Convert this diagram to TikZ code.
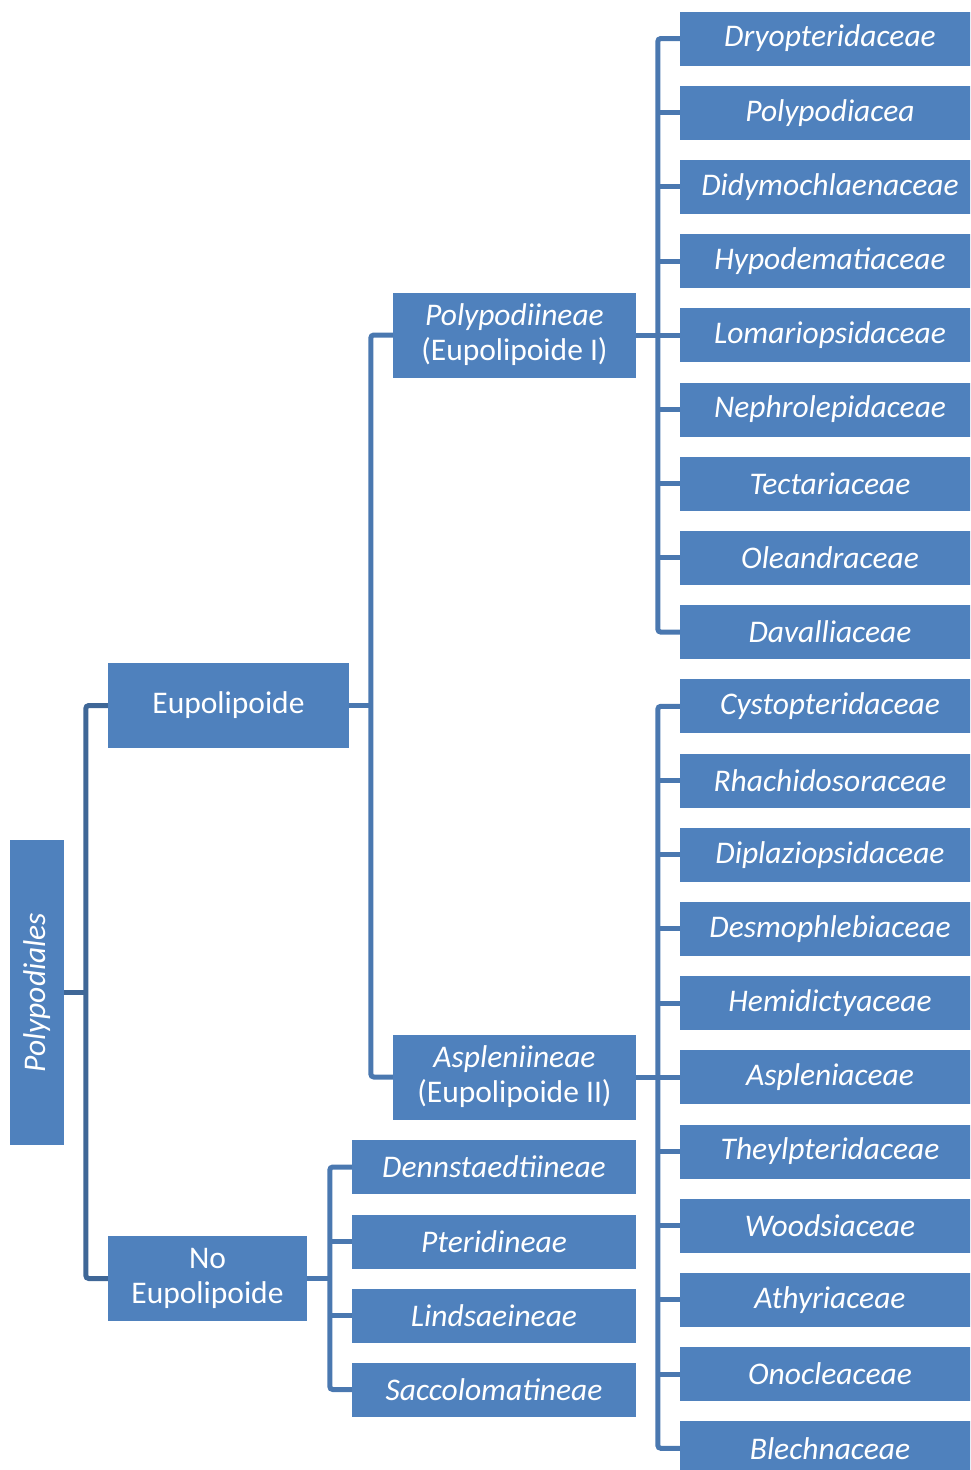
\documentclass[tikz,border=0pt]{standalone}
\usepackage{fontspec}
\setmainfont{Carlito}
\definecolor{boxblue}{HTML}{4F81BD}
\definecolor{lineblue}{HTML}{4A78B0}
\definecolor{linedark}{HTML}{3F6797}
\begin{document}
\begin{tikzpicture}[x=1pt,y=-1pt,
  box/.style={fill=boxblue,text=white,inner sep=2pt,align=center,
    font=\fontsize{31.5}{35}\selectfont},
  leaf/.style={box,minimum width=300,minimum height=54},
  conn/.style={draw=lineblue,line width=5pt,rounded corners=3pt},
  conndark/.style={draw=linedark,line width=5pt,rounded corners=3pt}]
\useasboundingbox (0,0) rectangle (970,1470);
\begin{scope}
\clip (0,0) rectangle (970,1470);
% root
\node[box,minimum width=305,minimum height=54,rotate=90] (pp) at (37,992.5) {\itshape Polypodiales};
\node[box,minimum width=241,minimum height=85] (eu) at (228.5,705.5) {Eupolipoide};
\node[box,minimum width=199,minimum height=85] (neu) at (207.5,1278.5) {No\\Eupolipoide};
\node[box,minimum width=243,minimum height=85] (pod) at (514.5,335) {\textit{Polypodiineae}\\(Eupolipoide I)};
\node[box,minimum width=243,minimum height=85] (asp) at (514.5,1077) {\textit{Aspleniineae}\\(Eupolipoide II)};
\node[box,minimum width=284,minimum height=54] (den) at (494,1167) {\itshape Dennstaedtiineae};
\node[box,minimum width=284,minimum height=54] (pte) at (494,1241.5) {\itshape Pteridineae};
\node[box,minimum width=284,minimum height=54] (lin) at (494,1315.5) {\itshape Lindsaeineae};
\node[box,minimum width=284,minimum height=54] (sac) at (494,1389.5) {\itshape Saccolomatineae};
% leaves
\foreach \t [count=\i] in {Dryopteridaceae,Polypodiacea,Didymochlaenaceae,Hypodematiaceae,Lomariopsidaceae,Nephrolepidaceae,Tectariaceae,Oleandraceae,Davalliaceae,Cystopteridaceae,Rhachidosoraceae,Diplaziopsidaceae,Desmophlebiaceae,Hemidictyaceae,Aspleniaceae,Theylpteridaceae,Woodsiaceae,Athyriaceae,Onocleaceae,Blechnaceae}
  \node[leaf] (r\i) at (830,38.5+74.2*\i-74.2) {\itshape\t};
% connectors
\draw[conndark] (pp.south) -- ++(22,0);
\draw[conndark] (eu.west) -- ++(-22,0) |- (neu.west);
\draw[conn] (eu.east) -- ++(22,0);
\draw[conn] (pod.west) -- ++(-22,0) |- (asp.west);
\draw[conn] (neu.east) -- ++(23,0);
\draw[conn] (den.west) -- ++(-22,0) |- (sac.west);
\draw[conn] (pte.west) -- ++(-22,0);
\draw[conn] (lin.west) -- ++(-22,0);
\draw[conn] (pod.east) -- ++(22,0);
\draw[conn] (r1.west) -- ++(-22,0) |- (r9.west);
\foreach \i in {2,...,8} \draw[conn] (r\i.west) -- ++(-22,0);
\draw[conn] (asp.east) -- ++(22,0);
\draw[conn] (r10.west) -- ++(-22,0) |- (r20.west);
\foreach \i in {11,...,19} \draw[conn] (r\i.west) -- ++(-22,0);
\end{scope}
\end{tikzpicture}
\end{document}
